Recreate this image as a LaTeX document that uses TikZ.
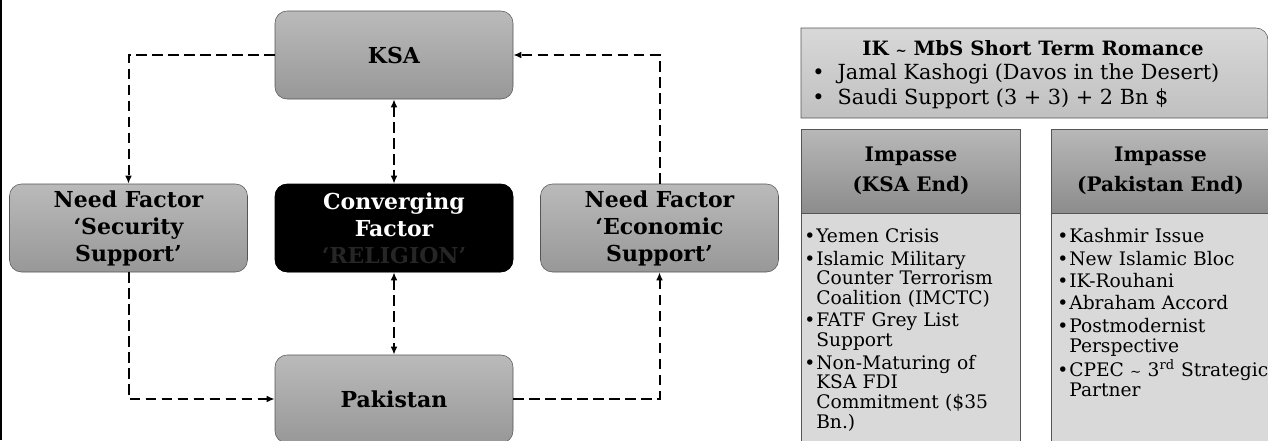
\documentclass[tikz,border=0pt]{standalone}
\usepackage{fontspec}
\setmainfont{DejaVu Serif}
\usetikzlibrary{arrows.meta,positioning}
\definecolor{BoxTop}{HTML}{BABABA}
\definecolor{BoxBot}{HTML}{989898}
\definecolor{BoxEdge}{HTML}{555555}
\definecolor{HeadTop}{HTML}{B8B8B8}
\definecolor{HeadBot}{HTML}{8C8C8C}
\definecolor{PanelFill}{HTML}{D9D9D9}
\definecolor{RomTop}{HTML}{D8D8D8}
\definecolor{RomBot}{HTML}{C0C0C0}
\definecolor{FaintText}{HTML}{262626}
% bullet with hanging indent
\newcommand{\bul}{\par\hangindent=9pt\hangafter=1\noindent\makebox[9pt][l]{\textbullet}}
% small tilde
\newcommand{\stil}{{\fontsize{10}{10}\selectfont\char`~}}

\begin{document}
\begin{tikzpicture}[x=0.75pt, y=-0.75pt,
  factor/.style={rounded corners=9pt, draw=BoxEdge, top color=BoxTop, bottom color=BoxBot, minimum width=178.5pt, minimum height=66pt, align=center, font=\fontsize{16.5}{20.2}\selectfont\bfseries},
  core/.style={factor, fill=black, draw=black, text=white, top color=black, bottom color=black},
  head/.style={draw=BoxEdge, top color=HeadTop, bottom color=HeadBot, minimum width=164pt, minimum height=63pt, align=center, font=\fontsize{15}{22.5}\selectfont\bfseries},
  items/.style={anchor=north west, inner sep=0pt, text width=170pt, align=left, font=\fontsize{14}{14.8}\selectfont\setlength{\parskip}{2pt}},
  link/.style={line width=1.5pt, dash pattern=on 8pt off 4pt, -{Latex[length=6pt,width=5pt]}},
  both/.style={link, {Latex[length=6pt,width=5pt]}-{Latex[length=6pt,width=5pt]}}
]
\useasboundingbox (0,0) rectangle (1268,440);
\draw[line width=1.6pt] (1,0) -- (1,440);

% left part
\node[factor] (ksa) at (394,55) {KSA};
\node[factor] (sec) at (128.5,228) {Need Factor\\‘Security\\Support’};
\node[core] (conv) at (394,228) {Converging\\Factor\\{\color{FaintText}‘RELIGION’}};
\node[factor] (eco) at (659.5,228) {Need Factor\\‘Economic\\Support’};
\node[factor] (pak) at (394,399) {Pakistan};

\draw[link] (ksa.west) -| (sec.north);
\draw[link] (eco.north) |- (ksa.east);
\draw[link] (sec.south) |- (pak.west);
\draw[link] (pak.east) -| (eco.south);
\draw[both] (ksa) -- (conv);
\draw[both] (conv) -- (pak);

% right part
\shade[draw=BoxEdge, top color=RomTop, bottom color=RomBot] (801,118) -- (801,28) [rounded corners=9pt] -- (1268,28) [sharp corners] -- (1268,118) -- cycle;
\node[font=\fontsize{14.8}{18}\selectfont\bfseries] (rom) at (1033,48) {IK \stil{} MbS Short Term Romance};
\node[anchor=north west, inner sep=0pt, align=left, font=\fontsize{15.6}{19}\selectfont] (romitems) at (812,63.5)
  {\makebox[19pt][l]{\textbullet}Jamal Kashogi (Davos in the Desert)\\
   \makebox[19pt][l]{\textbullet}Saudi Support (3 + 3) + 2 Bn \$};

\node[head] (ksaend) at (911,171) {Impasse\\(KSA End)};
\node[head] (pakend) at (1160.5,171) {Impasse\\(Pakistan End)};
\draw[draw=BoxEdge, fill=PanelFill] (ksaend.south west) rectangle (1020,445);
\draw[draw=BoxEdge, fill=PanelFill] (pakend.south west) rectangle (1270,445);

\node[items] (ksalist) at (804,220) {%
  \bul Yemen Crisis
  \bul Islamic Military\newline Counter Terrorism\newline Coalition (IMCTC)
  \bul FATF Grey List\newline Support
  \bul Non-Maturing of\newline KSA FDI\newline Commitment (\$35\newline Bn.)\par};
\node[items] (paklist) at (1057,220) {%
  \bul Kashmir Issue
  \bul New Islamic Bloc
  \bul IK-Rouhani
  \bul Abraham Accord
  \bul Postmodernist\newline Perspective
  \bul CPEC \stil{} 3\textsuperscript{rd} Strategic\newline Partner\par};
\end{tikzpicture}
\end{document}
